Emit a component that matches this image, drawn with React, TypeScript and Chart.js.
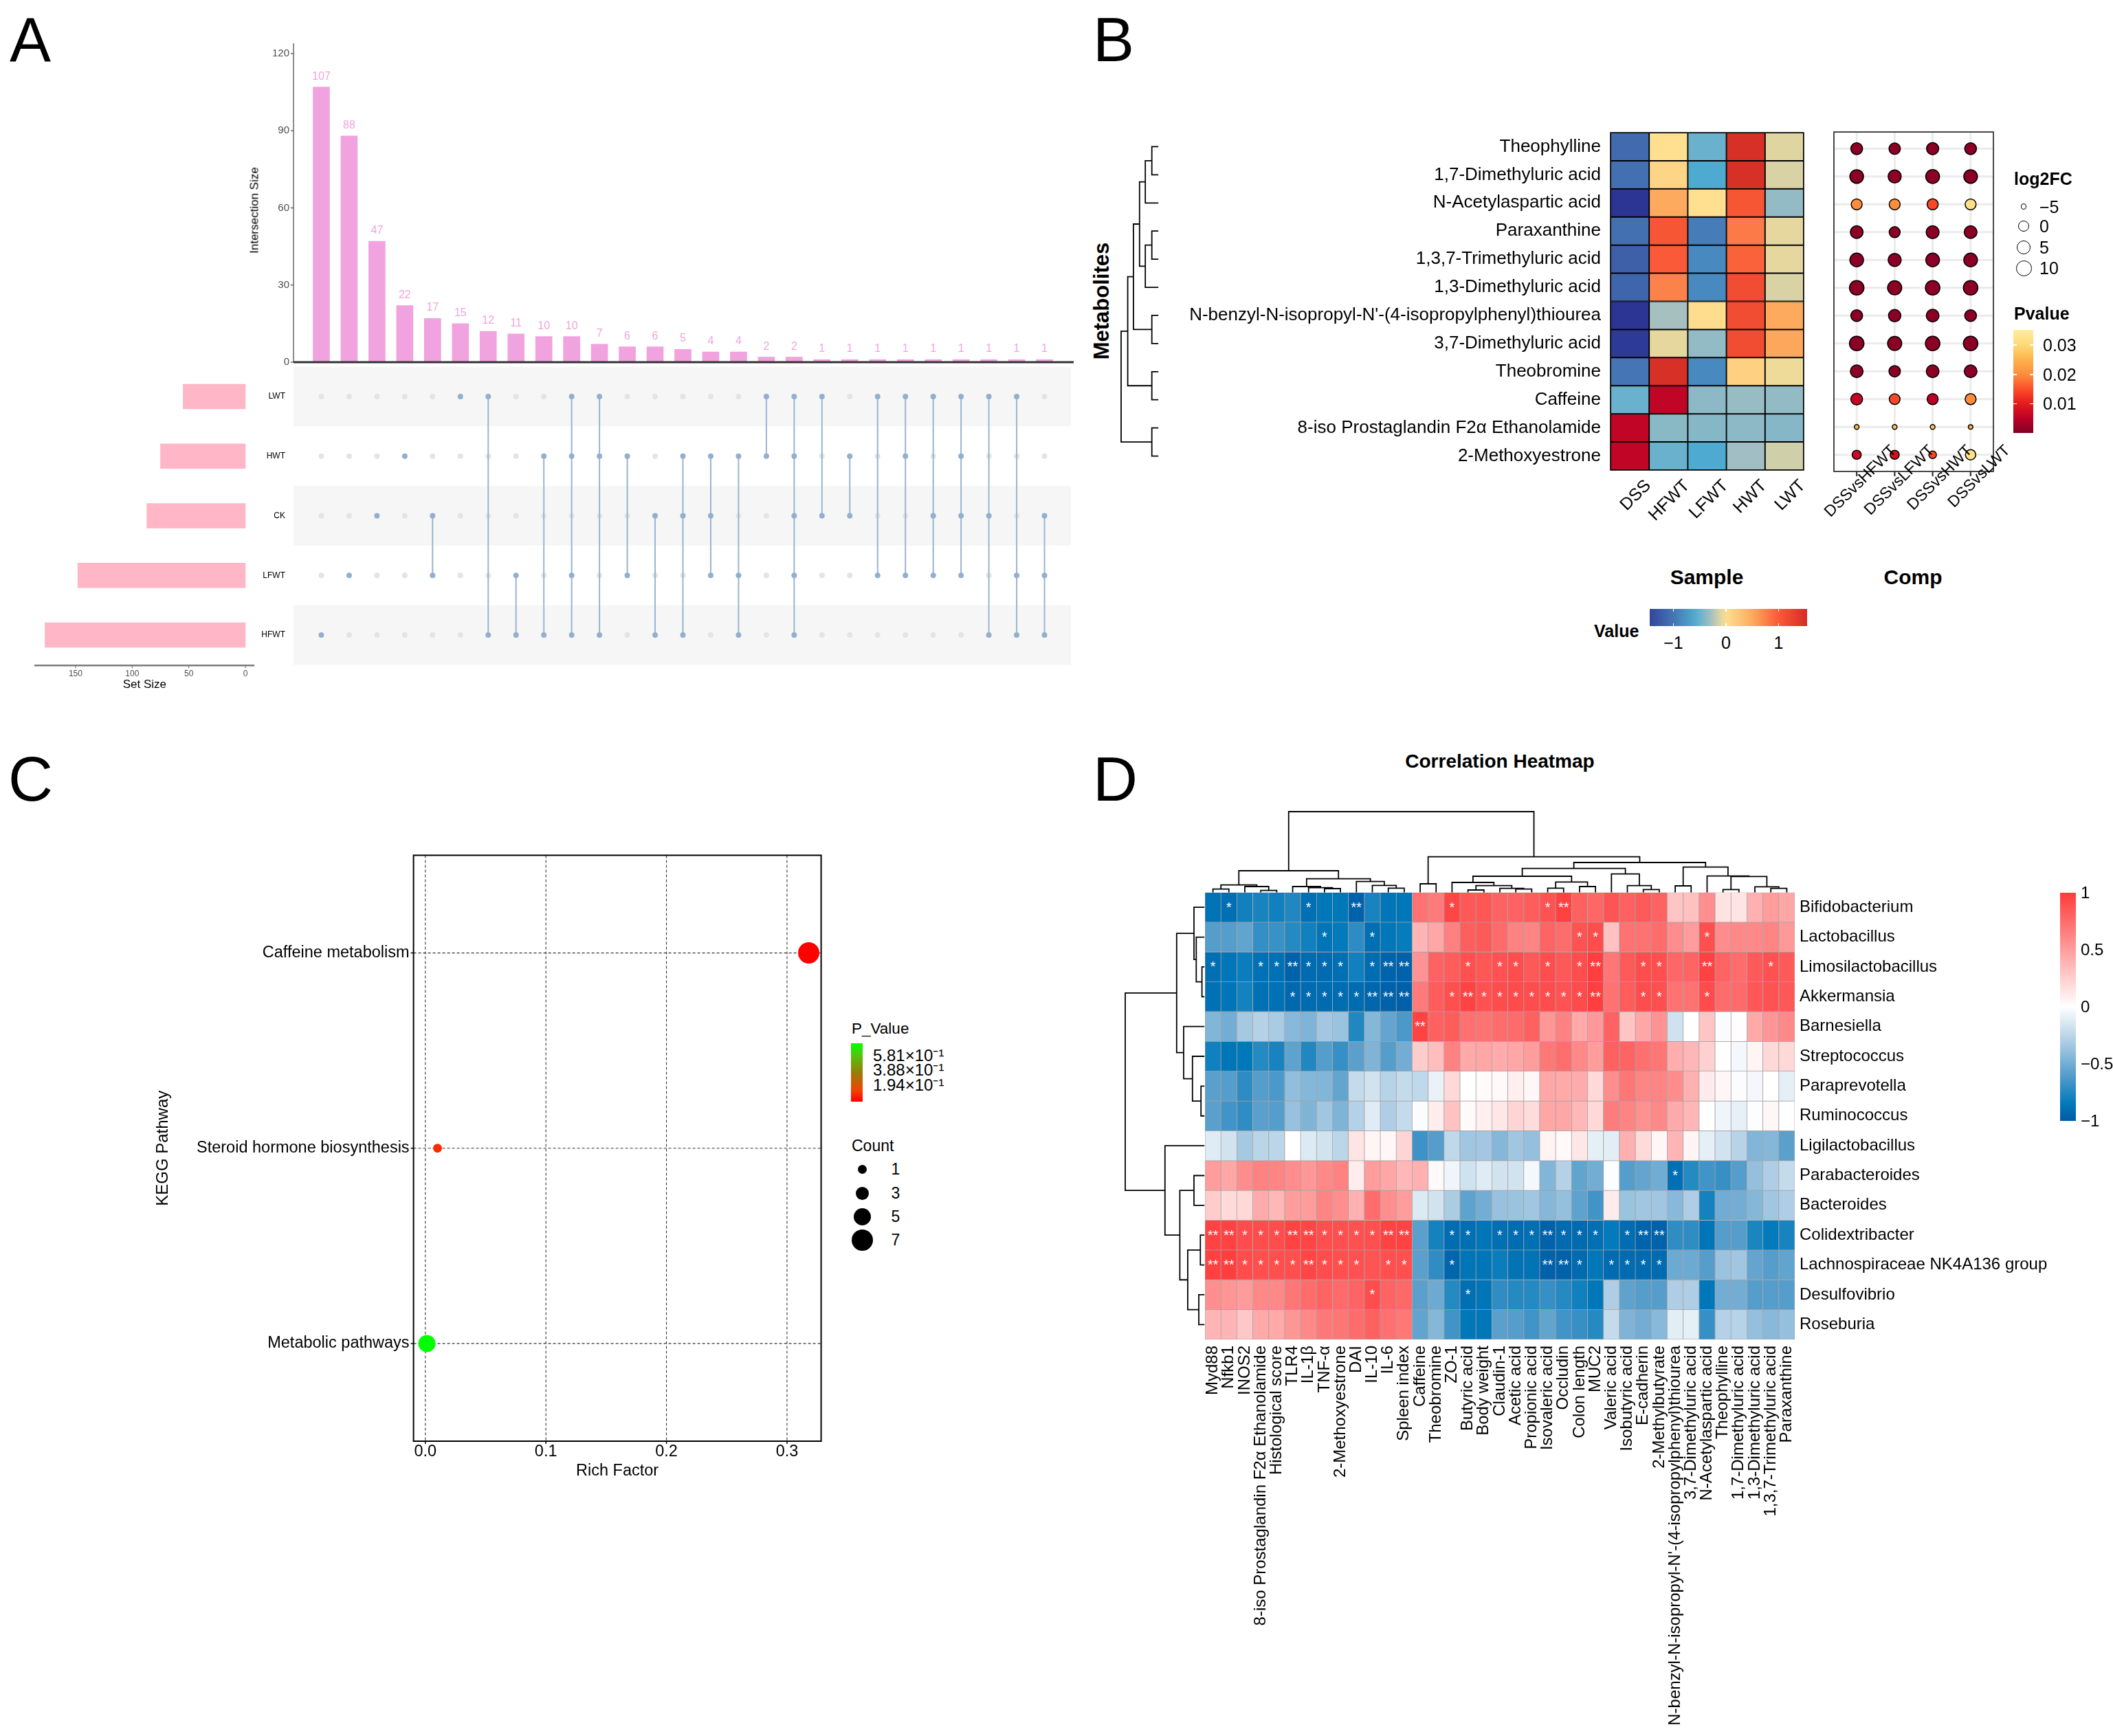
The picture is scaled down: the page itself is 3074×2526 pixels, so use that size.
import React, { useEffect, useRef } from "react";
import { Chart, registerables } from "chart.js";

Chart.register(...registerables);

const FONT = '"Liberation Sans", Arial, Helvetica, sans-serif';

/* ================= Panel A : UpSet ================= */
const intersectionSizes = [107, 88, 47, 22, 17, 15, 12, 11, 10, 10, 7, 6, 6, 5, 4, 4, 2, 2, 1, 1, 1, 1, 1, 1, 1, 1, 1];
const intersectionTicks = [0, 30, 60, 90, 120];
const setNames = ["LWT", "HWT", "CK", "LFWT", "HFWT"];
const setSizes = [55, 75, 87, 148, 177];
const setSizeTicks = [0, 50, 100, 150];
const intersectionSets = [
  [4], [3], [2], [1], [2, 3], [0], [0, 4], [3, 4], [1, 4], [0, 1, 3, 4], [0, 1, 4], [1, 3], [2, 4], [1, 2, 4],
  [1, 2, 3], [1, 3, 4], [0, 1], [0, 1, 2, 3, 4], [0, 2], [1, 2], [0, 3], [0, 1, 3], [0, 2, 3], [0, 1, 2, 3],
  [0, 2, 4], [0, 3, 4], [2, 3, 4],
];

/* ================= Panel B : heatmap + dot plot ================= */
const sampleNames = ["DSS", "HFWT", "LFWT", "HWT", "LWT"];
const metaboliteNames = [
  "Theophylline", "1,7-Dimethyluric acid", "N-Acetylaspartic acid", "Paraxanthine", "1,3,7-Trimethyluric acid",
  "1,3-Dimethyluric acid", "N-benzyl-N-isopropyl-N'-(4-isopropylphenyl)thiourea", "3,7-Dimethyluric acid",
  "Theobromine", "Caffeine", "8-iso Prostaglandin F2\u03b1 Ethanolamide", "2-Methoxyestrone",
];
const sampleValues = [
  [-1.1, 0.0, -0.5, 1.5, -0.1],
  [-1.05, 0.1, -0.6, 1.5, -0.12],
  [-1.6, 0.5, 0.0, 1.05, -0.35],
  [-1.05, 1.05, -0.95, 0.8, -0.08],
  [-1.2, 1.0, -0.85, 0.95, -0.08],
  [-1.15, 0.75, -0.85, 1.15, -0.12],
  [-1.6, -0.28, 0.02, 1.15, 0.5],
  [-1.55, -0.08, -0.35, 1.15, 0.52],
  [-1.0, 1.5, -0.85, 0.15, -0.05],
  [-0.5, 1.95, -0.37, -0.33, -0.35],
  [1.95, -0.38, -0.4, -0.37, -0.4],
  [1.95, -0.5, -0.6, -0.3, -0.15],
];
const valueTicks = [-1, 0, 1];
// [left child, right child, height]; leaves 0..11, merge k gets id 12+k
const metaboliteMerges = [
  [0, 1, 9.5], [12, 2, 19], [3, 4, 9.5], [14, 5, 19], [13, 15, 27.4], [6, 7, 9.5],
  [16, 17, 36.3], [8, 9, 9.5], [18, 19, 44.6], [10, 11, 9.5], [20, 21, 54.2],
];
const compNames = ["DSSvsHFWT", "DSSvsLFWT", "DSSvsHWT", "DSSvsLWT"];
const log2FC = [
  [2.8, 2.0, 3.5, 2.8],
  [7.1, 5.6, 7.5, 7.1],
  [1.1, 1.1, 1.3, 1.1],
  [4.7, 1.1, 5.2, 4.7],
  [7.1, 5.6, 7.1, 7.1],
  [9.3, 8.2, 9.3, 9.3],
  [2.8, 3.9, 4.7, 2.8],
  [9.3, 8.2, 9.3, 9.3],
  [4.7, 2.0, 4.7, 4.7],
  [2.8, 0.8, 1.3, 1.1],
  [-5.0, -5.0, -5.0, -5.2],
  [-1.2, -1.2, -2.5, 0.0],
];
const compP = [
  [0.001, 0.001, 0.001, 0.001],
  [0.001, 0.001, 0.001, 0.001],
  [0.02, 0.02, 0.0145, 0.032],
  [0.001, 0.001, 0.001, 0.001],
  [0.001, 0.001, 0.001, 0.001],
  [0.001, 0.001, 0.001, 0.001],
  [0.001, 0.001, 0.001, 0.001],
  [0.001, 0.001, 0.001, 0.001],
  [0.001, 0.001, 0.001, 0.001],
  [0.006, 0.0145, 0.005, 0.02],
  [0.026, 0.027, 0.027, 0.025],
  [0.007, 0.008, 0.0145, 0.032],
];
const fcLegendValues = [-5, 0, 5, 10];
const pLegendTicks = [0.03, 0.02, 0.01];

/* ================= Panel C : KEGG ================= */
const pathwayNames = ["Caffeine metabolism", "Steroid hormone biosynthesis", "Metabolic pathways"];
const richFactor = [0.318, 0.0101, 0.0013];
const pathwayCount = [7, 1, 5];
const pathwayP = [0.00001, 0.1, 0.775];
const richTicks = [0, 0.1, 0.2, 0.3];
const keggPTicks = [0.581, 0.388, 0.194];
const keggPLabels = ["5.81\u00d710\u207b\u00b9", "3.88\u00d710\u207b\u00b9", "1.94\u00d710\u207b\u00b9"];
const countLegend = [1, 3, 5, 7];

/* ================= Panel D : correlation heatmap ================= */
const corrRows = [
  "Bifidobacterium", "Lactobacillus", "Limosilactobacillus", "Akkermansia", "Barnesiella", "Streptococcus",
  "Paraprevotella", "Ruminococcus", "Ligilactobacillus", "Parabacteroides", "Bacteroides", "Colidextribacter",
  "Lachnospiraceae NK4A136 group", "Desulfovibrio", "Roseburia",
];
const corrCols = [
  "Myd88", "Nfkb1", "INOS2", "8-iso Prostaglandin F2\u03b1 Ethanolamide", "Histological score", "TLR4", "IL-1\u03b2",
  "TNF-\u03b1", "2-Methoxyestrone", "DAI", "IL-10", "IL-6", "Spleen index", "Caffeine", "Theobromine", "ZO-1",
  "Butyric acid", "Body weight", "Claudin-1", "Acetic acid", "Propionic acid", "Isovaleric acid", "Occludin",
  "Colon length", "MUC2", "Valeric acid", "Isobutyric acid", "E-cadherin", "2-Methylbutyrate",
  "N-benzyl-N-isopropyl-N'-(4-isopropylphenyl)thiourea", "3,7-Dimethyluric acid", "N-Acetylaspartic acid",
  "Theophylline", "1,7-Dimethyluric acid", "1,3-Dimethyluric acid", "1,3,7-Trimethyluric acid", "Paraxanthine",
];
const corrValues = [
  [-0.88, -0.9, -0.8, -0.78, -0.8, -0.75, -0.9, -0.86, -0.86, -0.96, -0.78, -0.87, -0.86, 0.72, 0.68, 0.95, 0.85, 0.86, 0.8, 0.8, 0.83, 0.88, 0.97, 0.81, 0.78, 0.87, 0.81, 0.84, 0.8, 0.3, 0.32, 0.57, 0.15, 0.14, 0.4, 0.5, 0.45],
  [-0.6, -0.6, -0.56, -0.7, -0.68, -0.74, -0.8, -0.87, -0.84, -0.72, -0.9, -0.86, -0.83, 0.38, 0.45, 0.65, 0.82, 0.84, 0.76, 0.64, 0.62, 0.79, 0.75, 0.88, 0.91, 0.31, 0.72, 0.72, 0.75, 0.58, 0.5, 0.9, 0.58, 0.6, 0.6, 0.62, 0.52],
  [-0.9, -0.87, -0.82, -0.89, -0.89, -0.96, -0.92, -0.92, -0.9, -0.8, -0.91, -0.95, -0.96, 0.55, 0.8, 0.83, 0.9, 0.86, 0.89, 0.91, 0.85, 0.91, 0.85, 0.91, 0.98, 0.7, 0.84, 0.91, 0.9, 0.78, 0.79, 0.97, 0.79, 0.75, 0.84, 0.89, 0.84],
  [-0.89, -0.87, -0.79, -0.89, -0.89, -0.93, -0.92, -0.92, -0.91, -0.91, -0.94, -0.96, -0.97, 0.68, 0.83, 0.9, 0.96, 0.89, 0.91, 0.92, 0.91, 0.91, 0.88, 0.92, 0.98, 0.72, 0.83, 0.91, 0.9, 0.72, 0.72, 0.92, 0.75, 0.76, 0.86, 0.88, 0.85],
  [-0.45, -0.5, -0.33, -0.28, -0.32, -0.43, -0.46, -0.34, -0.37, -0.75, -0.44, -0.55, -0.63, 0.96, 0.81, 0.83, 0.73, 0.72, 0.75, 0.76, 0.81, 0.53, 0.64, 0.44, 0.52, 0.8, 0.3, 0.45, 0.55, -0.18, 0, 0.3, -0.02, 0.01, 0.44, 0.54, 0.6],
  [-0.8, -0.87, -0.85, -0.74, -0.78, -0.57, -0.75, -0.6, -0.69, -0.58, -0.46, -0.6, -0.5, 0.26, 0.33, 0.64, 0.44, 0.45, 0.43, 0.45, 0.5, 0.69, 0.74, 0.6, 0.5, 0.81, 0.79, 0.73, 0.7, 0.42, 0.37, 0.24, 0.01, -0.04, 0.05, 0.2, 0.2],
  [-0.58, -0.6, -0.72, -0.6, -0.63, -0.4, -0.44, -0.45, -0.55, -0.22, -0.17, -0.27, -0.22, -0.24, -0.08, 0.2, 0, 0.02, 0.03, 0.08, 0.04, 0.45, 0.44, 0.43, 0.2, 0.58, 0.7, 0.62, 0.62, 0.58, 0.4, 0.1, 0.04, -0.02, -0.04, 0, -0.1],
  [-0.58, -0.66, -0.71, -0.58, -0.6, -0.38, -0.46, -0.35, -0.46, -0.28, -0.12, -0.3, -0.22, -0.02, 0.09, 0.31, 0.02, 0.08, 0.12, 0.22, 0.18, 0.45, 0.45, 0.36, 0.2, 0.67, 0.63, 0.56, 0.6, 0.43, 0.37, 0, -0.06, -0.09, -0.01, 0.04, 0],
  [-0.12, -0.17, -0.33, -0.26, -0.25, 0, -0.13, -0.17, -0.25, 0.14, 0.05, 0.04, 0.22, -0.67, -0.6, -0.24, -0.35, -0.34, -0.44, -0.35, -0.39, 0.06, 0.03, 0.12, -0.1, -0.11, 0.41, 0.19, 0.04, 0.38, 0.05, -0.1, -0.17, -0.27, -0.45, -0.44, -0.58],
  [0.5, 0.45, 0.58, 0.64, 0.62, 0.58, 0.53, 0.6, 0.64, 0.09, 0.5, 0.45, 0.36, 0.4, 0.03, -0.06, -0.18, -0.12, -0.17, -0.17, -0.04, -0.45, -0.28, -0.56, -0.5, -0.01, -0.6, -0.55, -0.51, -0.9, -0.74, -0.66, -0.69, -0.6, -0.39, -0.3, -0.22],
  [0.26, 0.19, 0.2, 0.43, 0.36, 0.5, 0.5, 0.62, 0.57, 0.4, 0.75, 0.57, 0.5, -0.13, -0.17, -0.31, -0.57, -0.5, -0.38, -0.37, -0.35, -0.44, -0.39, -0.57, -0.66, 0.1, -0.37, -0.35, -0.35, -0.43, -0.3, -0.79, -0.51, -0.5, -0.44, -0.35, -0.3],
  [0.96, 0.96, 0.91, 0.91, 0.91, 0.96, 0.95, 0.9, 0.9, 0.89, 0.9, 0.96, 0.96, -0.58, -0.79, -0.91, -0.9, -0.87, -0.9, -0.91, -0.9, -0.96, -0.92, -0.92, -0.9, -0.84, -0.91, -0.95, -0.96, -0.71, -0.71, -0.87, -0.6, -0.6, -0.77, -0.84, -0.78],
  [0.97, 0.98, 0.91, 0.9, 0.9, 0.9, 0.95, 0.91, 0.9, 0.89, 0.87, 0.9, 0.9, -0.58, -0.71, -0.94, -0.87, -0.87, -0.82, -0.88, -0.88, -0.96, -0.96, -0.92, -0.86, -0.92, -0.92, -0.92, -0.92, -0.52, -0.52, -0.6, -0.37, -0.35, -0.55, -0.6, -0.56],
  [0.57, 0.54, 0.51, 0.6, 0.6, 0.7, 0.75, 0.79, 0.76, 0.79, 0.91, 0.79, 0.77, -0.58, -0.52, -0.74, -0.9, -0.87, -0.71, -0.74, -0.74, -0.69, -0.74, -0.8, -0.86, -0.3, -0.57, -0.6, -0.6, -0.3, -0.3, -0.86, -0.5, -0.5, -0.6, -0.6, -0.6],
  [0.38, 0.38, 0.28, 0.44, 0.44, 0.53, 0.6, 0.69, 0.7, 0.75, 0.81, 0.73, 0.69, -0.56, -0.44, -0.66, -0.86, -0.86, -0.58, -0.6, -0.66, -0.56, -0.66, -0.69, -0.74, -0.22, -0.46, -0.5, -0.43, -0.11, -0.1, -0.69, -0.28, -0.27, -0.39, -0.43, -0.39],
];
// significance per cell: 0 none, 1 "*", 2 "**" (blocks of 10 columns)
const corrStars = [
  "0100001002 0000010000 0120000000 0000000",
  "0000000100 1000000000 0001100000 0100000",
  "1001121110 1220001011 0101200110 0200010",
  "0000011111 2220012111 1111200110 0100000",
  "0000000000 0002000000 0000000000 0000000",
  "0000000000 0000000000 0000000000 0000000",
  "0000000000 0000000000 0000000000 0000000",
  "0000000000 0000000000 0000000000 0000000",
  "0000000000 0000000000 0000000000 0000000",
  "0000000000 0000000000 0000000001 0000000",
  "0000000000 0000000000 0000000000 0000000",
  "2211122111 1220011011 1211101220 0000000",
  "2211112111 0110010000 0221011110 0000000",
  "0000000000 1000001000 0000000000 0000000",
  "0000000000 0000000000 0000000000 0000000",
];
const corrRowMerges = [
  [2, 3, 3.6], [1, 15, 11.9], [0, 16, 15.2], [6, 7, 5], [5, 18, 17.4], [4, 19, 30.2], [17, 20, 40.4],
  [9, 10, 15.2], [11, 12, 5.9], [13, 14, 8.2], [23, 24, 24.3], [22, 25, 35.8], [8, 26, 57.4], [21, 27, 115.2],
];
const corrColMerges = [
  [0, 1, 4.8], [3, 4, 2.8], [2, 38, 8.5], [37, 39, 10.8], [7, 8, 5.5], [6, 41, 6.8], [5, 42, 8.5],
  [11, 12, 6.2], [10, 44, 10.2], [9, 45, 15.8], [43, 46, 19.8], [40, 47, 31.5], [13, 14, 12.5],
  [16, 17, 3.5], [19, 20, 4.8], [18, 51, 5.8], [50, 52, 9.8], [15, 53, 14.5], [21, 22, 6.2], [23, 24, 8.5],
  [55, 56, 15.2], [54, 57, 23.5], [27, 28, 4.2], [26, 59, 9.8], [25, 60, 26.8], [58, 61, 34.8], [29, 30, 9.5],
  [32, 33, 4.2], [35, 36, 5.8], [34, 65, 8.2], [64, 66, 23.2], [31, 67, 23.8], [63, 68, 36.8], [62, 69, 43.5],
  [49, 70, 51.8], [48, 71, 117.5],
];
const corrLegendTicks = [1, 0.5, 0, -0.5, -1];

/* ================= colours / helpers ================= */
type RGB = number[];
const toRgb = (c: RGB) => `rgb(${Math.round(c[0])},${Math.round(c[1])},${Math.round(c[2])})`;
function rampColor(stops: [number, RGB][], v: number): string {
  if (v <= stops[0][0]) return toRgb(stops[0][1]);
  for (let i = 1; i < stops.length; i++) {
    if (v <= stops[i][0]) {
      const [v0, c0] = stops[i - 1];
      const [v1, c1] = stops[i];
      const t = (v - v0) / (v1 - v0);
      return toRgb(c0.map((x, k) => x + (c1[k] - x) * t));
    }
  }
  return toRgb(stops[stops.length - 1][1]);
}
function interp(pts: number[][], v: number): number {
  let i = 1;
  while (i < pts.length - 1 && v > pts[i][0]) i++;
  const [x0, y0] = pts[i - 1];
  const [x1, y1] = pts[i];
  return y0 + ((v - x0) * (y1 - y0)) / (x1 - x0);
}
const SAMPLE_STOPS: [number, RGB][] = [
  [-1.6, [44, 53, 148]], [-1.0, [69, 117, 180]], [-0.6, [78, 170, 208]], [-0.3, [160, 190, 195]],
  [0, [254, 224, 144]], [0.5, [253, 170, 95]], [1.0, [250, 90, 55]], [1.5, [215, 48, 39]], [2.0, [190, 0, 38]],
];
const sampleColor = (v: number) => rampColor(SAMPLE_STOPS, v);
const P_STOPS: [number, RGB][] = [
  [0, [128, 0, 38]], [0.005, [189, 0, 38]], [0.01, [227, 26, 28]], [0.015, [252, 78, 42]], [0.02, [253, 141, 60]],
  [0.025, [254, 178, 76]], [0.03, [254, 217, 118]], [0.0352, [255, 237, 160]],
];
const pColor = (p: number) => rampColor(P_STOPS, p);
const CORR_STOPS: [number, RGB][] = [
  [-1, [0, 90, 164]], [-0.85, [0, 121, 187]], [-0.6, [85, 157, 203]], [-0.3, [175, 206, 229]], [0, [255, 255, 255]], [1, [255, 59, 59]],
];
const corrColor = (v: number) => rampColor(CORR_STOPS, v);
const KEGG_STOPS: [number, RGB][] = [[0, [255, 0, 0]], [0.2, [240, 70, 0]], [0.5, [150, 125, 10]], [0.8, [80, 200, 10]], [1, [0, 255, 0]]];
const KEGG_PMAX = 0.775;
const keggColor = (p: number) => rampColor(KEGG_STOPS, p / KEGG_PMAX);
const fcR = (v: number) => interp([[-5, 4.2], [0, 8.3], [5, 10.1], [10, 11.5], [15, 12.7]], v);
const cntR = (n: number) => 5 + 1.5 * n;
const PINK = "#F0A3DE";

function gradient(dir: string, fn: (v: number) => string, v0: number, v1: number) {
  const n = 30;
  const parts: string[] = [];
  for (let i = 0; i <= n; i++) parts.push(`${fn(v0 + ((v1 - v0) * i) / n)} ${(100 * i) / n}%`);
  return `linear-gradient(${dir}, ${parts.join(", ")})`;
}

function dendroSegments(n: number, merges: number[][]) {
  const pos: number[] = [];
  const hgt: number[] = [];
  for (let i = 0; i < n; i++) { pos[i] = i + 0.5; hgt[i] = 0; }
  const segs: { p: number; h: number }[][] = [];
  merges.forEach(([a, b, h], k) => {
    segs.push([{ p: pos[a], h: hgt[a] }, { p: pos[a], h }, { p: pos[b], h }, { p: pos[b], h: hgt[b] }]);
    pos[n + k] = (pos[a] + pos[b]) / 2;
    hgt[n + k] = h;
  });
  return segs;
}

function ctxText(ctx: any, s: string, x: number, y: number, o: { size: number; align?: string; base?: string; rot?: number; color?: string; bold?: boolean }) {
  ctx.save();
  ctx.translate(x, y);
  if (o.rot) ctx.rotate((o.rot * Math.PI) / 180);
  ctx.font = `${o.bold ? "bold " : ""}${o.size}px ${FONT}`;
  ctx.textAlign = o.align || "left";
  ctx.textBaseline = o.base || "middle";
  ctx.fillStyle = o.color || "#000";
  ctx.fillText(s, 0, 0);
  ctx.restore();
}
function seg(ctx: any, x1: number, y1: number, x2: number, y2: number, color: string, w: number, dash?: number[]) {
  ctx.save();
  ctx.strokeStyle = color;
  ctx.lineWidth = w;
  ctx.setLineDash(dash || []);
  ctx.beginPath();
  ctx.moveTo(x1, y1);
  ctx.lineTo(x2, y2);
  ctx.stroke();
  ctx.restore();
}
function drawPlugin(id: string, before: ((c: any) => void) | null, after: ((c: any) => void) | null) {
  return {
    id,
    beforeDatasetsDraw(c: any) { if (before) before(c); },
    afterDatasetsDraw(c: any) { if (after) after(c); },
  };
}
function baseOptions(padding: any, scales: any, extra: any = {}) {
  return {
    animation: false,
    responsive: false,
    devicePixelRatio: 1,
    events: [],
    layout: { padding },
    plugins: { legend: { display: false }, tooltip: { enabled: false }, title: { display: false } },
    scales,
    ...extra,
  };
}
function dendroConfig(segs: { p: number; h: number }[][], horizontal: boolean, padding: any, scales: any) {
  return {
    type: "scatter",
    data: {
      datasets: segs.map((s) => ({
        data: s.map((q) => (horizontal ? { x: q.h, y: q.p } : { x: q.p, y: q.h })),
        showLine: true, pointRadius: 0, borderColor: "#000", borderWidth: 1.8, clip: 4,
      })),
    },
    options: baseOptions(padding, scales),
  };
}

/* ================= chart configs ================= */
function configA1() {
  return {
    type: "bar",
    data: { datasets: [{ data: intersectionSizes.map((v, i) => ({ x: i, y: v })), backgroundColor: PINK, borderWidth: 0, barThickness: 24 }] },
    options: baseOptions({ left: 87, right: 20, top: 38, bottom: 33 }, {
      x: { type: "linear", min: -1, max: 27, offset: false, display: false },
      y: { type: "linear", min: 0, max: 120, display: false },
    }),
    plugins: [drawPlugin("a1", null, (c) => {
      const ctx = c.ctx; const xs = c.scales.x; const ys = c.scales.y;
      const x0 = xs.getPixelForValue(-1);
      seg(ctx, x0, ys.getPixelForValue(124), x0, ys.getPixelForValue(0), "#444", 1.2);
      intersectionTicks.forEach((t) => {
        const y = ys.getPixelForValue(t);
        seg(ctx, x0 - 4, y, x0, y, "#444", 1.2);
        ctxText(ctx, String(t), x0 - 6, y, { size: 15, align: "right", color: "#4d4d4d" });
      });
      const y0 = ys.getPixelForValue(0);
      seg(ctx, x0, y0, xs.getPixelForValue(27) + 2, y0, "#333", 3);
      intersectionSizes.forEach((v, i) =>
        ctxText(ctx, String(v), xs.getPixelForValue(i), ys.getPixelForValue(v) - 11, { size: 16, align: "center", base: "alphabetic", color: PINK }));
    })],
  };
}
function configA2() {
  return {
    type: "bar",
    data: { datasets: [{ data: setSizes.map((v, i) => ({ x: v, y: i })), backgroundColor: "#FFB6C6", borderWidth: 0, barThickness: 36 }] },
    options: baseOptions({ left: 20, right: 52, top: 13.6, bottom: 52.6 }, {
      x: { type: "linear", min: -7.9, max: 186.4, reverse: true, display: false },
      y: { type: "linear", min: -0.5, max: 4.5, reverse: true, offset: false, display: false },
    }, { indexAxis: "y" }),
    plugins: [drawPlugin("a2", null, (c) => {
      const ctx = c.ctx; const xs = c.scales.x; const ys = c.scales.y; const ca = c.chartArea;
      const ya = ca.bottom + 0.8;
      seg(ctx, ca.left, ya, ca.right, ya, "#7a7a7a", 2.5);
      setSizeTicks.forEach((t) => {
        const x = xs.getPixelForValue(t);
        seg(ctx, x, ya, x, ya + 4, "#7a7a7a", 1.2);
        ctxText(ctx, String(t), x, ya + 12, { size: 12, align: "center", color: "#4d4d4d" });
      });
      ctxText(ctx, "Set Size", xs.getPixelForValue(89), ya + 28, { size: 17, align: "center" });
      setNames.forEach((s, i) => ctxText(ctx, s, ca.right + 45, ys.getPixelForValue(i), { size: 12, align: "right" }));
    })],
  };
}
function configA3() {
  const active: any[] = [];
  const inactive: any[] = [];
  intersectionSets.forEach((s, i) => {
    for (let r = 0; r < setNames.length; r++) (s.includes(r) ? active : inactive).push({ x: i, y: r });
  });
  const lines = intersectionSets
    .map((s, i) => ({ s, i }))
    .filter((o) => o.s.length > 1)
    .map((o) => ({
      data: [{ x: o.i, y: Math.min(...o.s) }, { x: o.i, y: Math.max(...o.s) }],
      showLine: true, pointRadius: 0, borderColor: "#9ab4d0", borderWidth: 2, order: 1,
    }));
  return {
    type: "scatter",
    data: {
      datasets: [
        { data: active, pointRadius: 4, backgroundColor: "#93afcf", borderWidth: 0, order: 0 },
        ...lines,
        { data: inactive, pointRadius: 4, backgroundColor: "#e4e4e4", borderWidth: 0, order: 2 },
      ],
    },
    options: baseOptions({ left: 7, right: 20, top: 8.6, bottom: 7.6 }, {
      x: { type: "linear", min: -1, max: 27, display: false },
      y: { type: "linear", min: -0.5, max: 4.5, reverse: true, display: false },
    }),
    plugins: [drawPlugin("a3", (c) => {
      const ctx = c.ctx; const xs = c.scales.x; const ys = c.scales.y;
      ctx.save();
      ctx.fillStyle = "#f6f6f6";
      [0, 2, 4].forEach((r) => {
        const y1 = ys.getPixelForValue(r - 0.5); const y2 = ys.getPixelForValue(r + 0.5);
        const x1 = xs.getPixelForValue(-1); const x2 = xs.getPixelForValue(26.95);
        ctx.fillRect(x1, y1, x2 - x1, y2 - y1);
      });
      ctx.restore();
    }, null)],
  };
}
function configB1() {
  return {
    type: "bar",
    data: {
      labels: sampleNames,
      datasets: metaboliteNames.map((m, r) => ({
        label: m,
        data: sampleNames.map(() => [r, r + 1]),
        backgroundColor: sampleValues[r].map(sampleColor),
        borderColor: "#000", borderWidth: 1.3, borderSkipped: false, grouped: false,
        barPercentage: 1, categoryPercentage: 1,
      })),
    },
    options: baseOptions({ left: 643, right: 36, top: 13, bottom: 96 }, {
      x: { type: "category", display: false },
      y: { type: "linear", min: 0, max: 12, reverse: true, display: false },
    }),
    plugins: [drawPlugin("b1", null, (c) => {
      const ctx = c.ctx; const xs = c.scales.x; const ys = c.scales.y; const ca = c.chartArea;
      ctx.save(); ctx.strokeStyle = "#000"; ctx.lineWidth = 1.5;
      ctx.strokeRect(ca.left, ca.top, ca.right - ca.left, ca.bottom - ca.top); ctx.restore();
      metaboliteNames.forEach((m, r) => ctxText(ctx, m, ca.left - 14, ys.getPixelForValue(r + 0.5), { size: 26, align: "right" }));
      sampleNames.forEach((s, k) => ctxText(ctx, s, xs.getPixelForValue(k) + 18, ca.bottom + 10, { size: 25, align: "right", base: "top", rot: -45 }));
    })],
  };
}
function configB2() {
  const pts: any[] = []; const cols: string[] = [];
  log2FC.forEach((row, r) => row.forEach((v, k) => {
    pts.push({ x: k + 1, y: r + 1, r: fcR(v) - 0.75 });
    cols.push(pColor(compP[r][k]));
  }));
  return {
    type: "bubble",
    data: { datasets: [{ data: pts, backgroundColor: cols, borderColor: "#000", borderWidth: 1.5, clip: 10 }] },
    options: baseOptions({ left: 28, right: 40, top: 10, bottom: 94 }, {
      x: { type: "linear", min: 0.4, max: 4.6, display: false },
      y: { type: "linear", min: 0.4, max: 12.6, reverse: true, display: false },
    }),
    plugins: [drawPlugin("b2", (c) => {
      const ctx = c.ctx; const xs = c.scales.x; const ys = c.scales.y; const ca = c.chartArea;
      compNames.forEach((_, k) => { const x = xs.getPixelForValue(k + 1); seg(ctx, x, ca.top, x, ca.bottom, "#ebebeb", 3); });
      metaboliteNames.forEach((_, r) => { const y = ys.getPixelForValue(r + 1); seg(ctx, ca.left, y, ca.right, y, "#ebebeb", 3); });
    }, (c) => {
      const ctx = c.ctx; const xs = c.scales.x; const ca = c.chartArea;
      ctx.save(); ctx.strokeStyle = "#333"; ctx.lineWidth = 1.8;
      ctx.strokeRect(ca.left, ca.top, ca.right - ca.left, ca.bottom - ca.top); ctx.restore();
      compNames.forEach((s, k) => {
        const x = xs.getPixelForValue(k + 1);
        seg(ctx, x, ca.bottom, x, ca.bottom + 7, "#333", 2.2);
        ctxText(ctx, s, x + 46, ca.bottom - 42, { size: 23, align: "right", base: "top", rot: -45 });
      });
    })],
  };
}
function configC() {
  return {
    type: "bubble",
    data: {
      datasets: [{
        data: pathwayNames.map((_, i) => ({ x: richFactor[i], y: i + 1, r: cntR(pathwayCount[i]) })),
        backgroundColor: pathwayP.map(keggColor), borderWidth: 0, clip: 20,
      }],
    },
    options: baseOptions({ left: 401.6, right: 35.4, top: 24.5, bottom: 83 }, {
      x: { type: "linear", min: -0.0098, max: 0.3283, display: false },
      y: { type: "linear", min: 0.5, max: 3.5, reverse: true, display: false },
    }),
    plugins: [drawPlugin("c", (c) => {
      const ctx = c.ctx; const xs = c.scales.x; const ys = c.scales.y; const ca = c.chartArea;
      richTicks.forEach((t) => { const x = xs.getPixelForValue(t); seg(ctx, x, ca.top, x, ca.bottom, "#333", 1.1, [4, 3]); });
      pathwayNames.forEach((_, i) => { const y = ys.getPixelForValue(i + 1); seg(ctx, ca.left, y, ca.right, y, "#333", 1.1, [4, 3]); });
    }, (c) => {
      const ctx = c.ctx; const xs = c.scales.x; const ys = c.scales.y; const ca = c.chartArea;
      ctx.save(); ctx.strokeStyle = "#000"; ctx.lineWidth = 2;
      ctx.strokeRect(ca.left, ca.top, ca.right - ca.left, ca.bottom - ca.top); ctx.restore();
      pathwayNames.forEach((n, i) => {
        const y = ys.getPixelForValue(i + 1);
        seg(ctx, ca.left - 4, y, ca.left, y, "#000", 1.5);
        ctxText(ctx, n, ca.left - 6, y, { size: 23.5, align: "right" });
      });
      richTicks.forEach((t) => {
        const x = xs.getPixelForValue(t);
        seg(ctx, x, ca.bottom, x, ca.bottom + 4, "#000", 1.5);
        ctxText(ctx, t.toFixed(1), x, ca.bottom + 16, { size: 23.5, align: "center" });
      });
      ctxText(ctx, "Rich Factor", (ca.left + ca.right) / 2, ca.bottom + 44, { size: 23.5, align: "center" });
      ctxText(ctx, "KEGG Pathway", 37, (ca.top + ca.bottom) / 2, { size: 24, align: "center", rot: -90 });
    })],
  };
}
function configD1() {
  return {
    type: "bar",
    data: {
      labels: corrCols,
      datasets: corrRows.map((name, r) => ({
        label: name,
        data: corrCols.map(() => [r, r + 1]),
        backgroundColor: corrValues[r].map(corrColor),
        borderColor: "#a3a3a3", borderWidth: 0.75, borderSkipped: false, grouped: false,
        barPercentage: 1, categoryPercentage: 1,
      })),
    },
    options: baseOptions({ left: 13, right: 409, top: 8.5, bottom: 577 }, {
      x: { type: "category", display: false },
      y: { type: "linear", min: 0, max: 15, reverse: true, display: false },
    }),
    plugins: [drawPlugin("d1", null, (c) => {
      const ctx = c.ctx; const xs = c.scales.x; const ys = c.scales.y; const ca = c.chartArea;
      corrStars.forEach((row, r) => {
        const s = row.replace(/ /g, "");
        for (let k = 0; k < s.length; k++) {
          const n = Number(s[k]);
          if (!n) continue;
          ctxText(ctx, n === 2 ? "**" : "*", xs.getPixelForValue(k), ys.getPixelForValue(r + 0.5) + 1, { size: 20, align: "center", color: "#fff" });
        }
      });
      corrRows.forEach((n, r) => ctxText(ctx, n, ca.right + 7, ys.getPixelForValue(r + 0.5), { size: 24 }));
      corrCols.forEach((n, k) => ctxText(ctx, n, xs.getPixelForValue(k), ca.bottom + 9, { size: 24, align: "right", rot: -90 }));
    })],
  };
}

/* ================= components ================= */
function ChartBox(p: { left: number; top: number; width: number; height: number; config: () => any }) {
  const ref = useRef<HTMLCanvasElement | null>(null);
  useEffect(() => {
    if (!ref.current) return;
    const chart = new Chart(ref.current, p.config());
    return () => chart.destroy();
  }, []);
  return <canvas ref={ref} width={p.width} height={p.height} style={{ position: "absolute", left: p.left, top: p.top, width: p.width, height: p.height }} />;
}
function Txt(p: { x: number; y: number; s: number; t: string; a?: string; rot?: number; b?: boolean }) {
  const tx = p.a === "c" ? "-50%" : p.a === "r" ? "-100%" : "0";
  return (
    <div style={{
      position: "absolute", left: p.x, top: p.y, transform: `translate(${tx}, -50%) rotate(${p.rot || 0}deg)`,
      fontFamily: FONT, fontSize: p.s, fontWeight: p.b ? 700 : 400, lineHeight: 1, whiteSpace: "nowrap", color: "#000",
    }}>{p.t}</div>
  );
}
function Box(p: { x: number; y: number; w: number; h: number; bg: string; style?: any }) {
  return <div style={{ position: "absolute", left: p.x, top: p.y, width: p.w, height: p.h, background: p.bg, ...(p.style || {}) }} />;
}

export default function App() {
  const segB = dendroSegments(metaboliteNames.length, metaboliteMerges);
  const segDr = dendroSegments(corrRows.length, corrRowMerges);
  const segDc = dendroSegments(corrCols.length, corrColMerges);
  const fcLegendY = [300.6, 329, 360, 390];
  const countY = [1701, 1736, 1770, 1804];
  const pBarTop = 480, pBarH = 150, pBarMax = 0.0352;
  const vBarL = 2400, vPerUnit = 76.5, vZero = 2511;
  const kBarTop = 1518, kBarH = 85;
  const dBarTop = 1298.5, dBarH = 332.5;
  return (
    <div style={{ position: "absolute", left: 0, top: 0, width: 3074, height: 2526, background: "#fff", overflow: "hidden", fontFamily: FONT }}>
      {/* Panel A */}
      <ChartBox left={340} top={40} width={1240} height={520} config={configA1} />
      <ChartBox left={30} top={520} width={392} height={500} config={configA2} />
      <ChartBox left={420} top={525} width={1160} height={450} config={configA3} />
      <Txt x={370} y={306} s={17} t="Intersection Size" a="c" rot={-90} />

      {/* Panel B */}
      <ChartBox left={1700} top={180} width={960} height={600} config={configB1} />
      <ChartBox left={1620} top={180} width={80} height={520} config={() => dendroConfig(segB, true, { left: 11, right: 14.8, top: 13, bottom: 16 }, {
        x: { type: "linear", min: 0, max: 54.2, reverse: true, display: false },
        y: { type: "linear", min: 0, max: 12, reverse: true, display: false },
      })} />
      <ChartBox left={2640} top={180} width={300} height={600} config={configB2} />
      <Txt x={1602} y={438} s={31} t="Metabolites" a="c" rot={-90} b />
      <Txt x={2930} y={260} s={25} t="log2FC" b />
      {fcLegendValues.map((v, i) => {
        const r = fcR(v);
        return <div key={"fc" + i} style={{ position: "absolute", left: 2944 - r, top: fcLegendY[i] - r, width: 2 * r, height: 2 * r, border: "1.5px solid #000", borderRadius: "50%", boxSizing: "border-box" }} />;
      })}
      {fcLegendValues.map((v, i) => <Txt key={"fct" + i} x={2967} y={fcLegendY[i]} s={25} t={v < 0 ? "\u2212" + Math.abs(v) : String(v)} />)}
      <Txt x={2930} y={456} s={25} t="Pvalue" b />
      <Box x={2929} y={pBarTop} w={29} h={pBarH} bg={gradient("to top", pColor, 0, pBarMax)} />
      {pLegendTicks.map((t, i) => {
        const y = pBarTop + pBarH - (t / pBarMax) * pBarH;
        return (
          <React.Fragment key={"pt" + i}>
            <Box x={2929} y={y - 0.75} w={5} h={1.5} bg="#fff" />
            <Box x={2953} y={y - 0.75} w={5} h={1.5} bg="#fff" />
            <Txt x={2972} y={y} s={25} t={t.toFixed(2)} />
          </React.Fragment>
        );
      })}
      <Txt x={2483} y={840} s={30} t="Sample" a="c" b />
      <Txt x={2783} y={840} s={30} t="Comp" a="c" b />
      <Txt x={2319} y={918} s={25} t="Value" b />
      <Box x={vBarL} y={886} w={229} h={25} bg={gradient("to right", sampleColor, (vBarL - vZero) / vPerUnit, (vBarL + 229 - vZero) / vPerUnit)} />
      {valueTicks.map((t, i) => {
        const x = vZero + t * vPerUnit;
        return (
          <React.Fragment key={"vt" + i}>
            <Box x={x - 0.75} y={886} w={1.5} h={4} bg="#fff" />
            <Box x={x - 0.75} y={907} w={1.5} h={4} bg="#fff" />
            <Txt x={x} y={935} s={25} t={t < 0 ? "\u2212" + Math.abs(t) : String(t)} a="c" />
          </React.Fragment>
        );
      })}

      {/* Panel C */}
      <ChartBox left={200} top={1220} width={1030} height={960} config={configC} />
      <Txt x={1239} y={1497} s={22.5} t="P_Value" />
      <Box x={1238} y={kBarTop} w={16.5} h={kBarH} bg={gradient("to top", keggColor, 0, KEGG_PMAX)} />
      {keggPTicks.map((t, i) => (
        <Txt key={"kp" + i} x={1270} y={kBarTop + kBarH - (t / KEGG_PMAX) * kBarH - 3} s={24} t={keggPLabels[i]} />
      ))}
      <Txt x={1239} y={1667} s={23} t="Count" />
      {countLegend.map((n, i) => {
        const r = cntR(n);
        return (
          <React.Fragment key={"cn" + i}>
            <div style={{ position: "absolute", left: 1254 - r, top: countY[i] - r, width: 2 * r, height: 2 * r, borderRadius: "50%", background: "#000" }} />
            <Txt x={1303} y={countY[i]} s={23} t={String(n)} a="c" />
          </React.Fragment>
        );
      })}

      {/* Panel D */}
      <ChartBox left={1740} top={1290} width={1280} height={1236} config={configD1} />
      <ChartBox left={1630} top={1290} width={130} height={670} config={() => dendroConfig(segDr, true, { left: 7, right: 7.8, top: 8.5, bottom: 11 }, {
        x: { type: "linear", min: 0, max: 115.2, reverse: true, display: false },
        y: { type: "linear", min: 0, max: 15, reverse: true, display: false },
      })} />
      <ChartBox left={1740} top={1170} width={880} height={135} config={() => dendroConfig(segDc, false, { left: 13, right: 9, top: 11, bottom: 6.5 }, {
        x: { type: "linear", min: 0, max: 37, display: false },
        y: { type: "linear", min: 0, max: 117.5, display: false },
      })} />
      <Txt x={2182} y={1108} s={28} t="Correlation Heatmap" a="c" b />
      <Box x={2997} y={dBarTop} w={23} h={dBarH} bg={gradient("to top", corrColor, -1, 1)} />
      {corrLegendTicks.map((t, i) => (
        <Txt key={"dl" + i} x={3027} y={dBarTop + ((1 - t) / 2) * dBarH} s={24} t={t < 0 ? "\u2212" + Math.abs(t) : String(t)} />
      ))}

      {/* panel letters */}
      <Txt x={14} y={58} s={90} t="A" />
      <Txt x={1590} y={58} s={90} t="B" />
      <Txt x={12} y={1134} s={90} t="C" />
      <Txt x={1590} y={1134} s={90} t="D" />
    </div>
  );
}
